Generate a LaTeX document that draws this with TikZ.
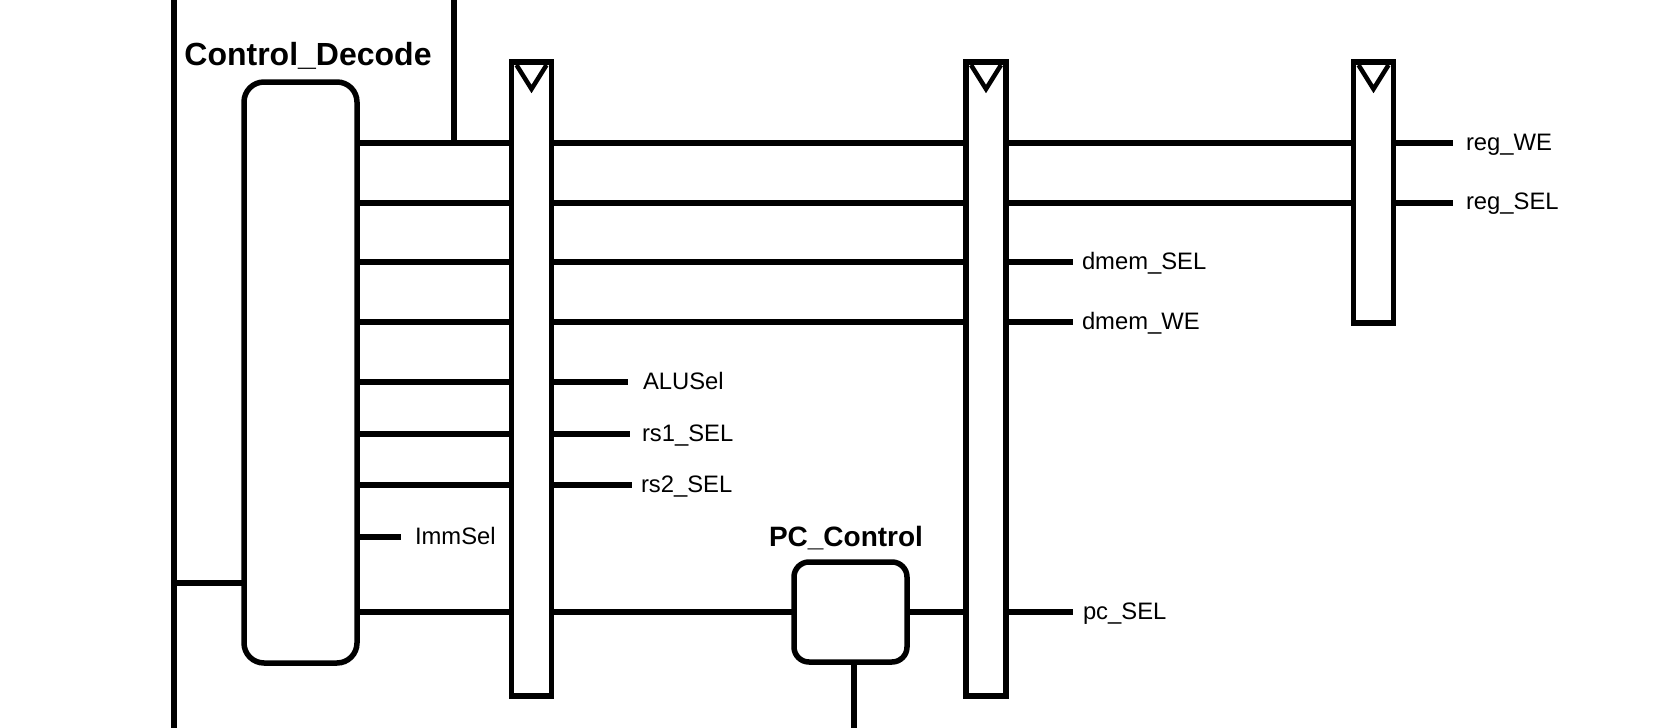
\documentclass[tikz,border=0pt]{standalone}
\usepackage{fontspec}
\setmainfont{Liberation Sans}
\usetikzlibrary{calc}
\begin{document}
\begin{tikzpicture}[x=1pt,y=-1pt,line width=5.5pt,
  every node/.style={outer sep=0pt},
  block/.style={draw,line width=5.5pt,fill=white,rounded corners=#1,inner sep=0pt},
  regbox/.style={draw,line width=5.5pt,fill=white,inner sep=0pt,minimum width=40pt},
  lbl/.style={anchor=base west,inner sep=0pt,font=\fontsize{23.8}{28}\selectfont},
  ttl/.style={anchor=base,inner sep=0pt,font=\bfseries\fontsize{#1}{#1}\selectfont}]
\useasboundingbox (0,0) rectangle (1673,728);

% row heights
\coordinate (y1) at (0,143);
\coordinate (y2) at (0,203);
\coordinate (y3) at (0,262);
\coordinate (y4) at (0,322);
\coordinate (y5) at (0,382);
\coordinate (y6) at (0,434);
\coordinate (y7) at (0,485);
\coordinate (y8) at (0,537);
\coordinate (y9) at (0,612);

% blocks
\node[block=20pt,minimum width=113pt,minimum height=581pt] (cd) at (300.5,372.5) {};
\node[block=15pt,minimum width=113pt,minimum height=100pt] (pc) at (850.5,612) {};
\node[regbox,minimum height=634pt] (r1) at (531.5,379) {};
\node[regbox,minimum height=634pt] (r2) at (986,379) {};
\node[regbox,minimum height=261pt] (r3) at (1373.5,192.5) {};

% clock triangles
\foreach \r in {r1,r2,r3}{
  \draw[line width=4.5pt,line join=miter]
    ([xshift=5pt,yshift=-3pt]\r.north west) -- ([yshift=-27pt]\r.north) -- ([xshift=-5pt,yshift=-3pt]\r.north east);
}

% titles
\node[ttl=32] (cdt) at (308,65) {Control\_Decode};
\node[ttl=28] (pct) at (846,546) {PC\_Control};

% outer lines
\coordinate (lt) at (174,0);
\coordinate (lb) at (174,728);
\draw (lt) -- (lb);
\coordinate (lj) at (174,583);
\draw (lj) -- (cd.west |- lj);
\coordinate (vt) at (454,0);
\draw (vt) -- (vt |- y1);
\coordinate (pcb) at (854,728);
\draw (pc.south -| pcb) -- (pcb);

% decode to register 1
\foreach \y in {y1,y2,y3,y4,y5,y6,y7,y9}{
  \draw (cd.east |- \y) -- (r1.west |- \y);
}
% register 1 to register 2
\foreach \y in {y1,y2,y3,y4}{
  \draw (r1.east |- \y) -- (r2.west |- \y);
}
% register 2 to register 3
\foreach \y in {y1,y2}{
  \draw (r2.east |- \y) -- (r3.west |- \y);
}
% pc path
\draw (r1.east |- y9) -- (pc.west |- y9);
\draw (pc.east |- y9) -- (r2.west |- y9);

% output stubs
\coordinate (eWE) at (1453,143);
\coordinate (eRS) at (1453,203);
\draw (r3.east |- eWE) -- (eWE);
\draw (r3.east |- eRS) -- (eRS);
\node[lbl] (tWE) at (1466,150) {reg\_WE};
\node[lbl] (tRS) at (1466,209) {reg\_SEL};

\coordinate (eDS) at (1073,262);
\coordinate (eDW) at (1073,322);
\coordinate (ePC) at (1073,612);
\draw (r2.east |- eDS) -- (eDS);
\draw (r2.east |- eDW) -- (eDW);
\draw (r2.east |- ePC) -- (ePC);
\node[lbl] (tDS) at (1082,269) {dmem\_SEL};
\node[lbl] (tDW) at (1082,329) {dmem\_WE};
\node[lbl] (tPC) at (1083,619) {pc\_SEL};

\coordinate (eALU) at (628,382);
\coordinate (eR1) at (630,434);
\coordinate (eR2) at (632,485);
\draw (r1.east |- eALU) -- (eALU);
\draw (r1.east |- eR1) -- (eR1);
\draw (r1.east |- eR2) -- (eR2);
\node[lbl] (tALU) at (643,389) {ALUSel};
\node[lbl] (tR1) at (642,441) {rs1\_SEL};
\node[lbl] (tR2) at (641,492) {rs2\_SEL};

\coordinate (eImm) at (401,537);
\draw (cd.east |- eImm) -- (eImm);
\node[lbl] (tImm) at (415,544) {ImmSel};
\end{tikzpicture}
\end{document}
